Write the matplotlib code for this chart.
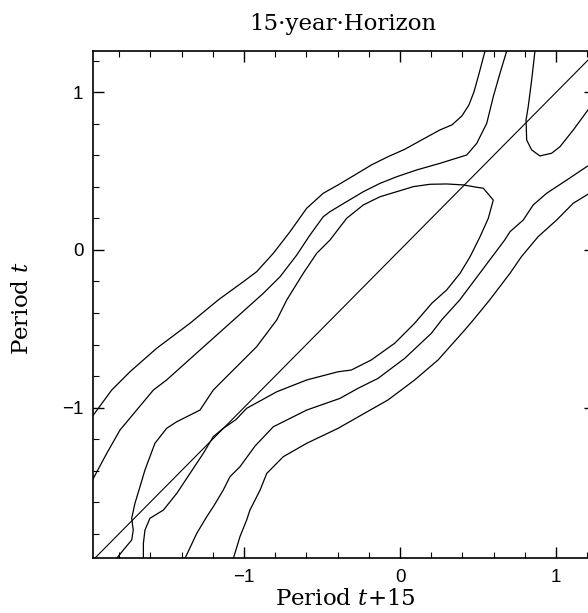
import matplotlib
matplotlib.use("Agg")
import matplotlib.pyplot as plt
from matplotlib.ticker import MultipleLocator

plt.rcParams['mathtext.fontset'] = 'dejavuserif'

# ---- data: contour lines of the 15-year transition kernel ----
c1_x = [-1.966, -1.848, -1.731, -1.560, -1.346, -1.165, -1.004, -0.919, -0.812, -0.705,
        -0.598, -0.492, -0.397, -0.290, -0.183, -0.077, 0.030, 0.158, 0.256, 0.333,
        0.397, 0.442, 0.474, 0.506, 0.545]
c1_y = [-1.048, -0.889, -0.773, -0.624, -0.465, -0.317, -0.201, -0.138, -0.021, 0.116,
        0.265, 0.360, 0.413, 0.476, 0.540, 0.592, 0.639, 0.709, 0.762, 0.794,
        0.851, 0.921, 1.003, 1.117, 1.263]

c2_x = [-1.966, -1.880, -1.795, -1.688, -1.581, -1.496, -1.282, -1.090, -0.983, -0.876,
        -0.769, -0.662, -0.577, -0.492, -0.449, -0.342, -0.235, -0.128, -0.021, 0.107,
        0.256, 0.428, 0.492, 0.556, 0.598, 0.641, 0.684]
c2_y = [-1.450, -1.291, -1.143, -1.016, -0.889, -0.825, -0.635, -0.465, -0.370, -0.275,
        -0.170, -0.032, 0.095, 0.211, 0.243, 0.307, 0.370, 0.423, 0.465, 0.508,
        0.550, 0.603, 0.677, 0.804, 0.973, 1.122, 1.263]

c3_x = [-1.816, -1.774, -1.720, -1.710, -1.720, -1.699, -1.667, -1.635, -1.603, -1.571,
        -1.496, -1.431, -1.346, -1.282, -1.197, -1.090, -0.919, -0.790, -0.726, -0.620,
        -0.534, -0.449, -0.342, -0.235, -0.128, -0.021, 0.085, 0.192, 0.299, 0.406,
        0.492, 0.534, 0.598, 0.566, 0.513, 0.449, 0.385, 0.299, 0.205, 0.094,
        -0.034, -0.184, -0.312, -0.397, -0.598, -0.790, -0.983, -1.051, -1.133, -1.197,
        -1.261, -1.346, -1.431, -1.517, -1.603, -1.635, -1.645, -1.645]
c3_y = [-1.957, -1.905, -1.841, -1.778, -1.703, -1.608, -1.503, -1.397, -1.312, -1.227,
        -1.132, -1.090, -1.048, -1.016, -0.889, -0.783, -0.614, -0.444, -0.317, -0.148,
        -0.021, 0.063, 0.201, 0.286, 0.338, 0.370, 0.402, 0.417, 0.419, 0.413,
        0.398, 0.392, 0.317, 0.201, 0.084, -0.043, -0.148, -0.254, -0.337, -0.465,
        -0.592, -0.698, -0.762, -0.773, -0.825, -0.900, -1.005, -1.076, -1.132, -1.185,
        -1.291, -1.418, -1.545, -1.651, -1.703, -1.778, -1.862, -1.957]

c4_x = [0.865, 0.844, 0.822, 0.808, 0.812, 0.844, 0.897, 0.972, 1.026, 1.111, 1.197, 1.250]
c4_y = [1.263, 1.079, 0.910, 0.825, 0.698, 0.635, 0.597, 0.614, 0.656, 0.762, 0.878, 0.952]

c5_x = [1.250, 1.197, 1.069, 0.940, 0.854, 0.790, 0.705, 0.671, 0.543, 0.383,
        0.267, 0.201, 0.030, -0.141, -0.269, -0.385, -0.598, -0.812, -0.929, -1.026,
        -1.090, -1.133, -1.197, -1.239, -1.303, -1.378]
c5_y = [0.559, 0.529, 0.444, 0.360, 0.286, 0.190, 0.116, 0.063, -0.106, -0.317,
        -0.444, -0.529, -0.688, -0.815, -0.878, -0.942, -1.016, -1.122, -1.244, -1.376,
        -1.439, -1.524, -1.630, -1.693, -1.799, -1.957]

c6_x = [1.250, 1.197, 1.111, 1.004, 0.885, 0.778, 0.705, 0.575, 0.470, 0.415,
        0.244, 0.094, -0.077, -0.248, -0.397, -0.598, -0.748, -0.854, -0.897, -0.962,
        -0.983, -1.026, -1.068]
c6_y = [0.381, 0.349, 0.297, 0.190, 0.084, -0.043, -0.148, -0.317, -0.444, -0.508,
        -0.698, -0.825, -0.952, -1.048, -1.132, -1.227, -1.312, -1.418, -1.524, -1.651,
        -1.714, -1.820, -1.957]

contours = [(c1_x, c1_y), (c2_x, c2_y), (c3_x, c3_y),
            (c4_x, c4_y), (c5_x, c5_y), (c6_x, c6_y)]

diag = [-2.1, 1.4]
x_ticks = [-1, 0, 1]
y_ticks = [-1, 0, 1]
tick_labels = ['\u22121', '0', '1']

xlim = (-1.968, 1.25)
ylim = (-1.957, 1.263)

# ---- figure ----
fig = plt.figure(figsize=(5.88, 6.13), dpi=100)
ax = fig.add_axes([93/588, (613-558.3)/613, 502/588, 507.3/613])

for cx, cy in contours:
    ax.plot(cx, cy, color='black', lw=0.9)
ax.plot(diag, diag, color='black', lw=0.8)

ax.set_xlim(*xlim)
ax.set_ylim(*ylim)

ax.xaxis.set_minor_locator(MultipleLocator(0.2))
ax.yaxis.set_minor_locator(MultipleLocator(0.2))
ax.set_xticks(x_ticks)
ax.set_yticks(y_ticks)
ax.set_xticklabels(tick_labels, family='Liberation Sans', fontsize=13.5)
ax.set_yticklabels(tick_labels, family='Liberation Sans', fontsize=13.5)

ax.tick_params(which='both', direction='in', top=True, right=True, color='black')
ax.tick_params(which='major', length=8, width=1.0)
ax.tick_params(which='minor', length=4, width=0.8)
ax.tick_params(axis='x', which='major', pad=8)
ax.tick_params(axis='y', which='major', pad=7)

for s in ax.spines.values():
    s.set_linewidth(1.2)

ax.set_xlabel(r'Period $t$+15', family='DejaVu Serif', fontsize=16.5)
ax.set_ylabel(r'Period $t$', family='DejaVu Serif', fontsize=16.5)
ax.xaxis.set_label_coords((345-93)/502, (558.3-599)/507.3)
ax.yaxis.set_label_coords((22-93)/502, (558.3-308)/507.3)
ax.xaxis.label.set_va('center')
ax.yaxis.label.set_va('center')

ax.text((343-93)/502, (558.3-24)/507.3, '15\u00b7year\u00b7Horizon',
        transform=ax.transAxes, ha='center', va='center',
        family='DejaVu Serif', fontsize=16.5)

fig.savefig('out.png', dpi=100)
